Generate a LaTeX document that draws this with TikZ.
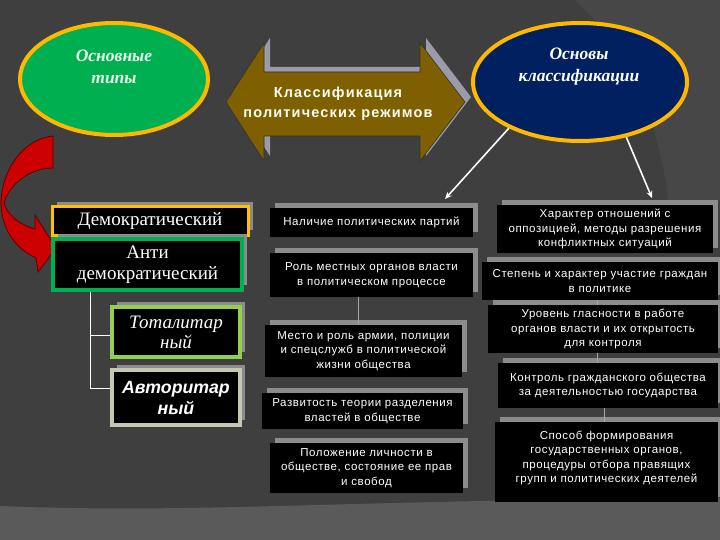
\documentclass[tikz,border=0pt]{standalone}
\usepackage{fontspec}
\setmainfont{Liberation Serif}
\setsansfont{Liberation Sans}
\usetikzlibrary{shapes.geometric,shadows,arrows.meta}
\definecolor{bgc}{HTML}{3F3F3F}
\definecolor{bgr}{HTML}{474747}
\definecolor{bgb}{HTML}{5A5A5A}
\definecolor{gold}{HTML}{FFB800}
\definecolor{egreen}{HTML}{00B050}
\definecolor{enavy}{HTML}{002060}
\definecolor{olive}{HTML}{7F6000}
\definecolor{ashd}{HTML}{9A9AA8}
\definecolor{shd}{HTML}{8C8C8C}
\definecolor{demy}{HTML}{FFC000}
\definecolor{antig}{HTML}{00B050}
\definecolor{totg}{HTML}{92D050}
\definecolor{avtg}{HTML}{C3C8AE}
\definecolor{redar}{HTML}{CC0000}
\definecolor{redln}{HTML}{600000}
\begin{document}
\begin{tikzpicture}[x=1pt,y=-1pt,
  shdw/.style={drop shadow={shadow xshift=5pt,shadow yshift=5pt,fill=shd,opacity=1}},
  blk/.style={shdw,fill=black,text=white,align=center,inner sep=0pt,
    font=\sffamily\fontsize{11.5}{14.5}\selectfont\addfontfeatures{LetterSpace=5}},
  lbox/.style={shdw,fill=black,text=white,align=center,inner sep=0pt},
  etext/.style={align=center,font=\bfseries\itshape\fontsize{17.5}{22}\selectfont},
  conn/.style={white,line width=0.8pt},
  vconn/.style={gray!70,line width=0.8pt},
  warr/.style={white,line width=1.6pt,-{Stealth[length=7pt,width=6pt]}}
]
\fill[bgc] (0,0) rectangle (720,540);
\useasboundingbox (0,0) rectangle (720,540);
\fill[bgr] (575,0) -- (720,0) -- (720,200) -- (668,200) .. controls (660,120) and (625,45) .. (575,0);
\fill[bgb] (0,506) .. controls (200,514) and (330,500) .. (720,498) -- (720,540) -- (0,540) -- cycle;

% ellipses
\node[ellipse,draw=gold,line width=4pt,fill=egreen,minimum width=188pt,minimum height=112pt,inner sep=0pt] (e1) at (114,79) {};
\node[etext,text=green!8!white] (e1t) at (114,67) {Основные\\типы};
\node[ellipse,draw=gold,line width=4pt,fill=enavy,minimum width=214pt,minimum height=118pt,inner sep=0pt] (e2) at (580,82) {};
\node[etext,text=white] (e2t) at (579,67) {Основы\\классификации};

% double arrow
\begin{scope}[shift={(6,-5)}]
\fill[ashd] (226,102) -- (264,43) -- (264,72) -- (420,72) -- (420,43) -- (465,102) -- (420,161) -- (420,136) -- (264,136) -- (264,161) -- cycle;
\end{scope}
\filldraw[fill=olive,draw=black!80,line width=0.6pt] (226,102) -- (264,43) -- (264,72) -- (420,72) -- (420,43) -- (465,102) -- (420,161) -- (420,136) -- (264,136) -- (264,161) -- cycle;
\node[align=center,text=yellow!5!white,font=\sffamily\bfseries\fontsize{14.5}{20}\selectfont\addfontfeatures{LetterSpace=8}] (cls) at (338,104) {Классификация\\политических режимов};

% red curved arrow
\filldraw[fill=redar,draw=redln,line width=0.8pt]
  (53,136) .. controls (22,139) and (1,172) .. (1,204)
  .. controls (2,232) and (18,250) .. (36,258)
  -- (38,272) -- (56,248) -- (35,215) -- (35,229)
  .. controls (18,224) and (7,214) .. (4,203)
  .. controls (10,182) and (32,168) .. (53,168) -- cycle;

% left boxes
\node[lbox,draw=demy,line width=3pt,minimum width=196pt,minimum height=28pt,font=\fontsize{19}{21}\selectfont] (dem) at (150,221) {Демократический};
\node[lbox,draw=antig,line width=4pt,minimum width=189pt,minimum height=51pt,font=\fontsize{19}{21}\selectfont] (anti) at (147.5,264.5) {Анти\\демократический};
\node[lbox,draw=totg,line width=4pt,minimum width=128pt,minimum height=50pt,font=\itshape\fontsize{19}{20}\selectfont] (tot) at (176,332) {Тоталитар\\ный};
\node[lbox,draw=avtg,line width=4pt,minimum width=128pt,minimum height=55pt,font=\sffamily\bfseries\itshape\fontsize{17.7}{21}\selectfont] (avt) at (176,397.5) {Авторитар\\ный};
\draw[conn] ([xshift=-57pt]anti.south) |- ([yshift=-3pt]tot.west);
\draw[conn] ([xshift=-57pt]anti.south) |- ([yshift=9.5pt]avt.west);

% middle column
\node[blk,minimum width=203pt,minimum height=29pt] (m1) at (371.5,222.5) {Наличие политических партий};
\node[blk,minimum width=203pt,minimum height=44pt] (m2) at (371.5,275) {Роль местных органов власти\\в политическом процессе};
\node[blk,minimum width=197pt,minimum height=52pt] (m3) at (363.5,351) {Место и роль армии, полиции\\и спецслужб в политической\\жизни общества};
\node[blk,minimum width=201pt,minimum height=36pt] (m4) at (362.5,411) {Развитость теории разделения\\властей в обществе};
\node[blk,minimum width=193pt,minimum height=50pt] (m5) at (366.5,468) {Положение личности в\\обществе, состояние ее прав\\и свобод};
\draw[vconn] ([xshift=-13.5pt]m2.south) -- ([xshift=-13.5pt]m2.south |- m3.north);

% right column
\node[blk,minimum width=216pt,minimum height=48pt] (r1) at (605,229) {Характер отношений с\\оппозицией, методы разрешения\\конфликтных ситуаций};
\node[blk,minimum width=236pt,minimum height=38pt] (r2) at (600,281) {Степень и характер участие граждан\\в политике};
\node[blk,minimum width=230pt,minimum height=48pt] (r3) at (603,329) {Уровень гласности в работе\\органов власти и их открытость\\для контроля};
\node[blk,minimum width=220pt,minimum height=45pt] (r4) at (608,385.5) {Контроль гражданского общества\\за деятельностью государства};
\node[blk,minimum width=223pt,minimum height=80pt] (r5) at (606.5,462) {Способ формирования\\государственных органов,\\процедуры отбора правящих\\групп и политических деятелей\\[-4pt]\mbox{}};
\draw[vconn] ([xshift=-3pt]r2.south) -- ([xshift=-3pt]r2.south |- r3.north);
\draw[vconn] ([xshift=-6pt]r3.south) -- ([xshift=-6pt]r3.south |- r4.north);
\draw[vconn] ([xshift=-4pt]r4.south) -- ([xshift=-4pt]r4.south |- r5.north);

% white arrows
\coordinate (t1) at (445,199);
\coordinate (t2) at (652,198);
\draw[warr] (e2.213) -- (t1);
\draw[warr] (e2.310) -- (t2);
\end{tikzpicture}
\end{document}
